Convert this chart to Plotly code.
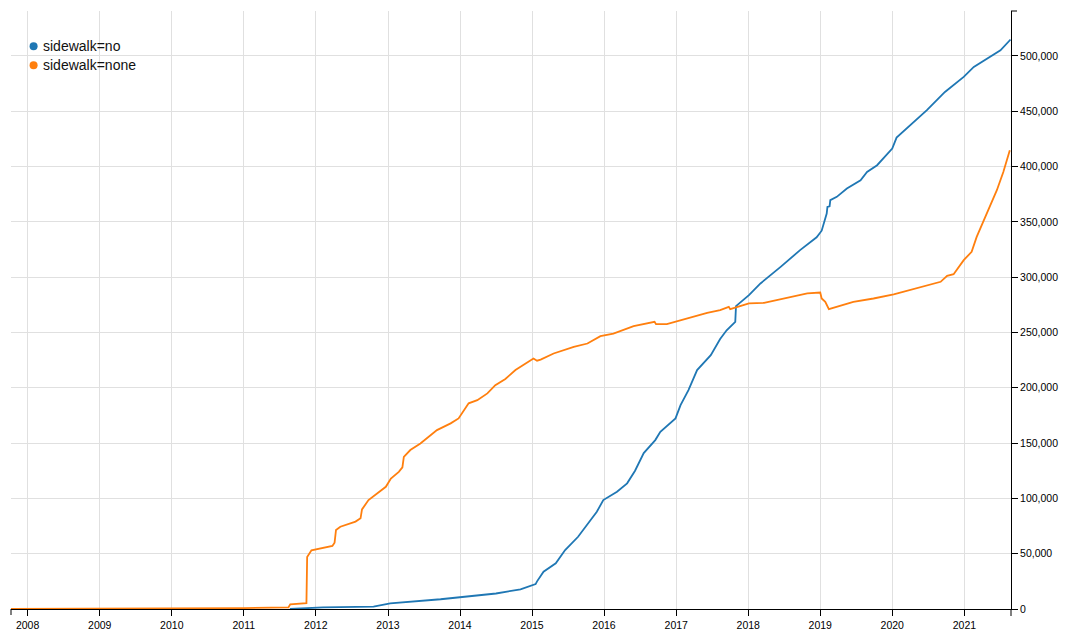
import plotly.graph_objects as go
import pandas as pd

# ---- data (decimal year, value in thousands) ----
none_t = [2007.77, 2009.0, 2010.0, 2011.0, 2011.62, 2011.645, 2011.87, 2011.88, 2011.94,
          2012.23, 2012.26, 2012.28, 2012.34, 2012.50, 2012.55, 2012.62, 2012.64, 2012.73,
          2012.97, 2013.04, 2013.15, 2013.20, 2013.22, 2013.31, 2013.45, 2013.68, 2013.87,
          2013.98, 2014.12, 2014.24, 2014.38, 2014.49, 2014.63, 2014.77, 2014.84, 2015.02,
          2015.07, 2015.12, 2015.30, 2015.58, 2015.77, 2015.95, 2016.13, 2016.41, 2016.70,
          2016.72, 2016.87, 2017.15, 2017.43, 2017.61, 2017.73, 2017.75, 2017.84, 2018.01,
          2018.22, 2018.49, 2018.82, 2019.00, 2019.02, 2019.07, 2019.12, 2019.46, 2019.74,
          2020.02, 2020.30, 2020.67, 2020.76, 2020.85, 2020.99, 2021.10, 2021.17, 2021.31,
          2021.45, 2021.54, 2021.63]
none_v = [0, 0.2, 0.4, 0.8, 1.5, 4.2, 5.3, 47, 53,
          57, 60, 71.4, 74.4, 78, 79, 82, 90, 98.5,
          110.5, 118, 124, 128, 137.6, 143.7, 149.7, 161.7, 167.8,
          172.3, 185.9, 188.8, 194.9, 202.4, 208, 216, 219, 226.5,
          224.5, 225.5, 231, 237, 240, 246.7, 249, 255.7, 259.6,
          257.5, 257.5, 262.7, 267.7, 270.2, 273.2, 271, 272.6, 276.2,
          276.8, 280.7, 285.3, 286.1, 280.7, 277.7, 271, 277.7, 280.7,
          284.4, 289.2, 295.8, 301.2, 302.7, 315.4, 322.9, 336.4, 357.6,
          378.6, 395.1, 414.7]

no_t = [2011.64, 2012.1, 2012.8, 2013.03, 2013.73, 2014.0, 2014.5, 2014.84, 2015.0,
        2015.05, 2015.07, 2015.16, 2015.33, 2015.46, 2015.64, 2015.90, 2015.99, 2016.18,
        2016.32, 2016.43, 2016.55, 2016.71, 2016.78, 2016.99, 2017.06, 2017.17, 2017.29,
        2017.48, 2017.61, 2017.70, 2017.82, 2017.83, 2018.01, 2018.17, 2018.45, 2018.72,
        2018.95, 2019.02, 2019.09, 2019.10, 2019.13, 2019.14, 2019.23, 2019.37, 2019.56,
        2019.65, 2019.79, 2019.93, 2020.0, 2020.06, 2020.25, 2020.48, 2020.73, 2020.99,
        2021.13, 2021.36, 2021.50, 2021.64]
no_v = [0, 1.5, 2.1, 5.1, 8.8, 10.5, 14, 17.8, 21,
        22.5, 25, 33.7, 41.3, 53.3, 65.3, 87.9, 98.5, 106,
        113.6, 125, 141, 152.7, 160.2, 172.3, 184.3, 197.9, 216,
        229.5, 244, 252, 259.6, 273.8, 283.7, 294.3, 309.3, 324.4,
        336, 342, 357.5, 363.5, 364.1, 369.6, 372.6, 380.1, 387.6,
        395.1, 401.2, 411.7, 416.3, 426.2, 437.3, 450.9, 467.4, 481,
        490, 499, 505.1, 514.8]

series_names = ["sidewalk=no", "sidewalk=none"]
series_colors = ["#1f77b4", "#ff7f0e"]
x_range = ["2007-10-09", "2021-08-25"]
y_max = 540600


def to_date(t):
    year = int(t)
    start = pd.Timestamp(year=year, month=1, day=1)
    end = pd.Timestamp(year=year + 1, month=1, day=1)
    return start + (end - start) * (t - year)


fig = go.Figure()
for name, color, ts, vs in [(series_names[0], series_colors[0], no_t, no_v),
                            (series_names[1], series_colors[1], none_t, none_v)]:
    fig.add_trace(go.Scatter(
        x=[to_date(t) for t in ts], y=[v * 1000 for v in vs],
        mode="lines", line=dict(color=color, width=1.8), name=name,
        showlegend=False, hoverinfo="x+y+name"))

# target plot-area edges in page pixels; the page body has an 8px margin
OFF = 8
L, R, T, B = 10.7, 1011.0, 10.7, 609.0
W, H = 1072, 632
pw, ph = R - L, B - T


def px(xp):
    return (xp - L) / pw


def py(yp):
    return (B - yp) / ph


shapes = []
annotations = []
# custom legend
for i, (name, color) in enumerate(zip(series_names, series_colors)):
    cy = [46, 65][i]
    shapes.append(dict(type="circle", xref="paper", yref="paper",
                       xsizemode="pixel", ysizemode="pixel",
                       xanchor=px(33.3), yanchor=py(cy),
                       x0=-4, x1=4, y0=-4, y1=4,
                       fillcolor=color, line=dict(width=0)))
    annotations.append(dict(text=name, xref="paper", yref="paper",
                            x=px(41), y=py(cy), xanchor="left", yanchor="middle",
                            showarrow=False, font=dict(size=14, color="#111",
                                                       family="Liberation Sans, Arial, sans-serif")))
# outer ticks at the ends of the axes
shapes.append(dict(type="line", xref="paper", yref="paper", ysizemode="pixel",
                   yanchor=0, x0=0, x1=0, y0=0, y1=-6, line=dict(color="black", width=1)))
shapes.append(dict(type="line", xref="paper", yref="paper", ysizemode="pixel",
                   yanchor=0, x0=1, x1=1, y0=0, y1=-7, line=dict(color="black", width=1)))
shapes.append(dict(type="line", xref="paper", yref="paper", xsizemode="pixel",
                   xanchor=1, x0=0, x1=6, y0=1, y1=1, line=dict(color="black", width=1)))

fig.update_layout(
    width=W, height=H,
    margin=dict(l=L - OFF, r=W - (R - OFF), t=T - OFF, b=H - (B - OFF), pad=0),
    paper_bgcolor="white", plot_bgcolor="white",
    showlegend=False,
    shapes=shapes, annotations=annotations,
    font=dict(family="Liberation Sans, Arial, sans-serif", size=10.5, color="black"),
    xaxis=dict(type="date", range=x_range, dtick="M12", tick0="2008-01-01",
               tickformat="%Y", showgrid=True, gridcolor="#e0e0e0", gridwidth=1,
               showline=True, linecolor="black", linewidth=1,
               ticks="outside", ticklen=6, tickcolor="black", tickwidth=1,
               zeroline=False, tickfont=dict(size=10.5, color="black")),
    yaxis=dict(side="right", range=[0, y_max], dtick=50000, tickformat=",",
               showgrid=True, gridcolor="#e0e0e0", gridwidth=1,
               showline=True, linecolor="black", linewidth=1,
               ticks="outside", ticklen=6, tickcolor="black", tickwidth=1,
               zeroline=False, tickfont=dict(size=10.5, color="black")),
)

fig.write_html("out.html")
